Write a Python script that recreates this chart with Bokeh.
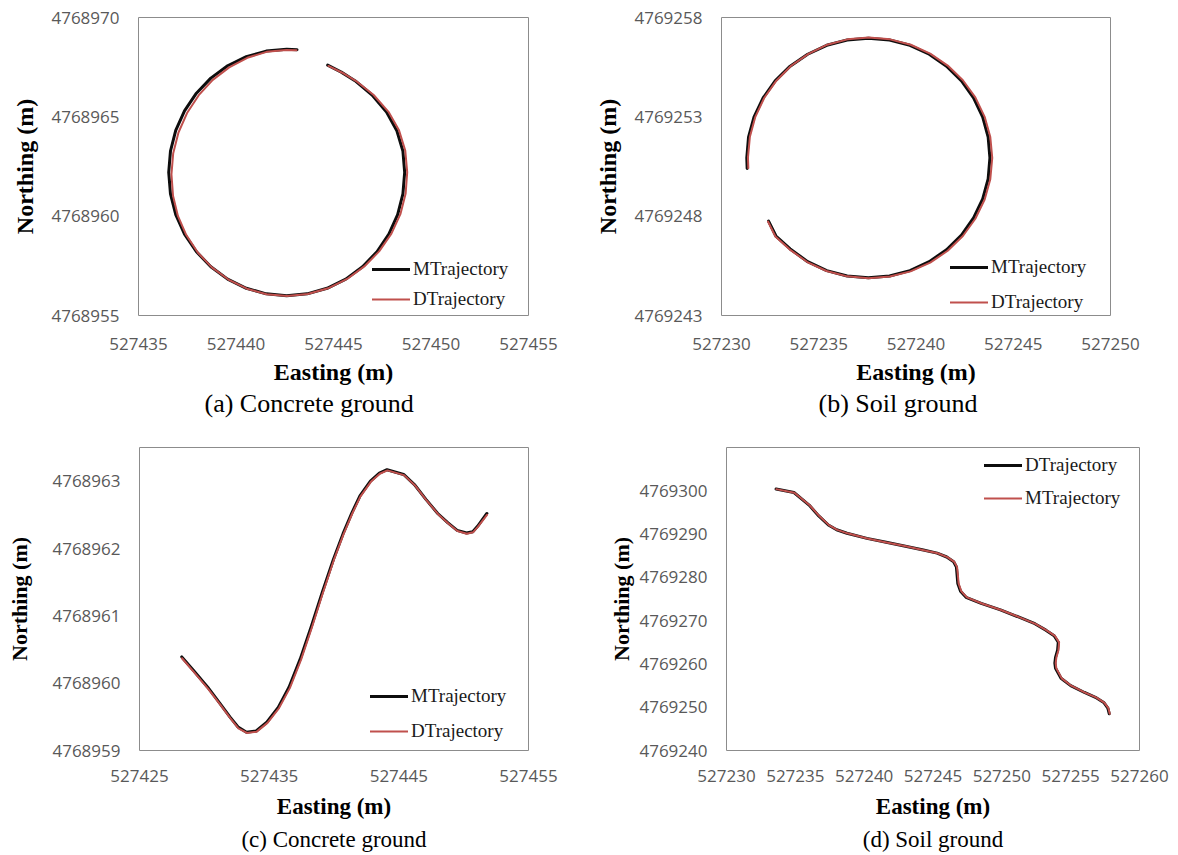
from bokeh.plotting import figure
from bokeh.models import (Range1d, FixedTicker, NumeralTickFormatter, Title,
                          Legend, LegendItem)
from bokeh.layouts import column, row
from bokeh.embed import file_html
from bokeh.resources import INLINE

# ---------------- data ----------------
# (a) Concrete ground - circle
a_m_east = [527443.13, 527442.60, 527441.55, 527440.53, 527439.57, 527438.71, 527437.97, 527437.36,
            527436.91, 527436.64, 527436.55, 527436.64, 527436.91, 527437.36, 527437.97, 527438.71,
            527439.57, 527440.53, 527441.55, 527442.60, 527443.65, 527444.67, 527445.63, 527446.49,
            527447.23, 527447.84, 527448.29, 527448.56, 527448.65, 527448.56, 527448.25, 527447.72,
            527446.98, 527446.10, 527445.40, 527444.70]
a_m_north = [4768968.38, 4768968.40, 4768968.31, 4768968.03, 4768967.57, 4768966.95, 4768966.19,
             4768965.30, 4768964.32, 4768963.28, 4768962.20, 4768961.12, 4768960.08, 4768959.10,
             4768958.21, 4768957.45, 4768956.83, 4768956.37, 4768956.09, 4768956.00, 4768956.09,
             4768956.37, 4768956.83, 4768957.45, 4768958.21, 4768959.10, 4768960.08, 4768961.12,
             4768962.20, 4768963.28, 4768964.30, 4768965.24, 4768966.10, 4768966.82, 4768967.25,
             4768967.60]
a_d_east = [527443.10, 527442.58, 527441.57, 527440.58, 527439.65, 527438.81, 527438.09, 527437.49,
            527437.05, 527436.78, 527436.69, 527436.77, 527437.02, 527437.45, 527438.04, 527438.76,
            527439.61, 527440.56, 527441.57, 527442.62, 527443.68, 527444.72, 527445.70, 527446.58,
            527447.34, 527447.97, 527448.43, 527448.70, 527448.78, 527448.68, 527448.36, 527447.82,
            527447.06, 527446.16, 527445.45, 527444.74]
a_d_north = [4768968.35, 4768968.37, 4768968.27, 4768967.97, 4768967.49, 4768966.86, 4768966.09,
             4768965.19, 4768964.21, 4768963.17, 4768962.10, 4768961.03, 4768960.01, 4768959.05,
             4768958.17, 4768957.42, 4768956.81, 4768956.35, 4768956.07, 4768955.98, 4768956.08,
             4768956.37, 4768956.84, 4768957.47, 4768958.23, 4768959.12, 4768960.10, 4768961.14,
             4768962.22, 4768963.30, 4768964.32, 4768965.25, 4768966.10, 4768966.80, 4768967.22,
             4768967.56]

# (b) Soil ground - circle
b_m_east = [527231.32, 527231.30, 527231.39, 527231.67, 527232.14, 527232.76, 527233.53, 527234.43,
            527235.41, 527236.46, 527237.55, 527238.64, 527239.69, 527240.68, 527241.57, 527242.34,
            527242.96, 527243.43, 527243.71, 527243.80, 527243.71, 527243.43, 527242.96, 527242.34,
            527241.57, 527240.68, 527239.69, 527238.64, 527237.55, 527236.46, 527235.41, 527234.43,
            527233.53, 527232.80, 527232.42]
b_m_north = [4769250.40, 4769250.93, 4769251.98, 4769252.99, 4769253.95, 4769254.81, 4769255.55,
             4769256.15, 4769256.60, 4769256.87, 4769256.96, 4769256.87, 4769256.60, 4769256.15,
             4769255.55, 4769254.81, 4769253.95, 4769252.99, 4769251.98, 4769250.93, 4769249.88,
             4769248.87, 4769247.91, 4769247.05, 4769246.31, 4769245.71, 4769245.26, 4769244.99,
             4769244.90, 4769244.99, 4769245.26, 4769245.71, 4769246.35, 4769247.00, 4769247.75]
b_d_east = [527231.38, 527231.36, 527231.46, 527231.74, 527232.20, 527232.82, 527233.58, 527234.47,
            527235.44, 527236.48, 527237.57, 527238.67, 527239.73, 527240.73, 527241.63, 527242.41,
            527243.05, 527243.53, 527243.82, 527243.92, 527243.82, 527243.53, 527243.05, 527242.41,
            527241.63, 527240.73, 527239.72, 527238.66, 527237.56, 527236.46, 527235.40, 527234.41,
            527233.50, 527232.77, 527232.39]
b_d_north = [4769250.42, 4769250.95, 4769252.00, 4769253.00, 4769253.96, 4769254.82, 4769255.57,
             4769256.17, 4769256.63, 4769256.90, 4769256.99, 4769256.90, 4769256.63, 4769256.18,
             4769255.58, 4769254.84, 4769253.98, 4769253.00, 4769251.98, 4769250.93, 4769249.86,
             4769248.84, 4769247.87, 4769247.00, 4769246.26, 4769245.66, 4769245.22, 4769244.96,
             4769244.87, 4769244.97, 4769245.24, 4769245.69, 4769246.33, 4769246.98, 4769247.73]

# (c) Concrete ground - S curve
c_m_east = [527428.26, 527429.20, 527430.26, 527431.20, 527431.97, 527432.60, 527433.25,
            527434.00, 527434.82, 527435.70, 527436.53, 527437.40, 527438.25, 527439.10,
            527439.96, 527440.70, 527441.38, 527442.00, 527442.81, 527443.50, 527444.09,
            527445.37, 527446.20, 527447.09, 527448.00, 527448.79, 527449.50, 527450.22,
            527450.70, 527451.07, 527451.79]
c_m_north = [4768960.39, 4768960.18, 4768959.94, 4768959.70, 4768959.50, 4768959.35, 4768959.27,
             4768959.29, 4768959.42, 4768959.64, 4768959.94, 4768960.36, 4768960.84, 4768961.35,
             4768961.84, 4768962.22, 4768962.53, 4768962.78, 4768963.00, 4768963.12, 4768963.17,
             4768963.10, 4768962.95, 4768962.73, 4768962.52, 4768962.38, 4768962.27, 4768962.23,
             4768962.25, 4768962.33, 4768962.52]
c_d_east = [527428.28, 527429.22, 527430.28, 527431.23, 527432.00, 527432.63, 527433.28,
            527434.04, 527434.87, 527435.76, 527436.60, 527437.46, 527438.30, 527439.14,
            527439.99, 527440.73, 527441.41, 527442.03, 527442.84, 527443.53, 527444.12,
            527445.40, 527446.23, 527447.12, 527448.03, 527448.82, 527449.52, 527450.24,
            527450.72, 527451.09, 527451.80]
c_d_north = [4768960.37, 4768960.16, 4768959.92, 4768959.68, 4768959.48, 4768959.33, 4768959.26,
             4768959.28, 4768959.41, 4768959.63, 4768959.93, 4768960.35, 4768960.83, 4768961.34,
             4768961.83, 4768962.21, 4768962.52, 4768962.77, 4768962.99, 4768963.11, 4768963.16,
             4768963.09, 4768962.94, 4768962.72, 4768962.51, 4768962.37, 4768962.26, 4768962.22,
             4768962.24, 4768962.32, 4768962.50]

# (d) Soil ground - wavy descending path
d_d_east = [527233.60, 527234.90, 527236.00, 527236.70, 527237.40, 527238.00, 527238.75, 527240.20,
            527241.60, 527243.00, 527244.30, 527245.30, 527246.00, 527246.50, 527246.70, 527246.75,
            527246.80, 527247.00, 527247.40, 527248.50, 527249.90, 527251.25, 527252.40, 527253.20,
            527253.80, 527254.10, 527254.05, 527253.90, 527253.85, 527253.90, 527254.30, 527255.00,
            527256.00, 527256.80, 527257.40, 527257.70, 527257.80]
d_d_north = [4769300.40, 4769299.60, 4769296.70, 4769294.20, 4769292.10, 4769291.00, 4769290.20,
             4769289.00, 4769288.10, 4769287.20, 4769286.30, 4769285.60, 4769284.70, 4769283.60,
             4769282.40, 4769280.50, 4769278.60, 4769276.80, 4769275.40, 4769274.00, 4769272.50,
             4769270.80, 4769269.30, 4769267.80, 4769266.50, 4769265.00, 4769263.20, 4769261.50,
             4769260.20, 4769259.00, 4769256.70, 4769255.00, 4769253.40, 4769252.30, 4769251.10,
             4769249.80, 4769248.50]
d_m_east = [527233.62, 527234.93, 527236.04, 527236.74, 527237.44, 527238.04, 527238.79, 527240.23,
            527241.63, 527243.03, 527244.33, 527245.34, 527246.04, 527246.55, 527246.75, 527246.81,
            527246.86, 527247.06, 527247.46, 527248.55, 527249.94, 527251.29, 527252.44, 527253.25,
            527253.86, 527254.16, 527254.11, 527253.96, 527253.91, 527253.96, 527254.35, 527255.04,
            527256.04, 527256.84, 527257.44, 527257.74, 527257.84]
d_m_north = [4769300.38, 4769299.57, 4769296.66, 4769294.16, 4769292.07, 4769290.97, 4769290.17,
             4769288.97, 4769288.07, 4769287.17, 4769286.27, 4769285.57, 4769284.66, 4769283.56,
             4769282.36, 4769280.47, 4769278.58, 4769276.77, 4769275.37, 4769273.96, 4769272.47,
             4769270.77, 4769269.27, 4769267.77, 4769266.47, 4769264.98, 4769263.18, 4769261.48,
             4769260.18, 4769258.97, 4769256.66, 4769254.97, 4769253.37, 4769252.27, 4769251.07,
             4769249.77, 4769248.48]

# axis ranges and tick values
a_xrange, a_yrange = (527435, 527455), (4768955, 4768970)
b_xrange, b_yrange = (527230, 527250), (4769243, 4769258)
c_xrange, c_yrange = (527425, 527455), (4768959, 4768963.5)
d_xrange, d_yrange = (527230, 527260), (4769240, 4769310)
a_xticks = [527435, 527440, 527445, 527450, 527455]
a_yticks = [4768955, 4768960, 4768965, 4768970]
b_xticks = [527230, 527235, 527240, 527245, 527250]
b_yticks = [4769243, 4769248, 4769253, 4769258]
c_xticks = [527425, 527435, 527445, 527455]
c_yticks = [4768959, 4768960, 4768961, 4768962, 4768963]
d_xticks = [527230, 527235, 527240, 527245, 527250, 527255, 527260]
d_yticks = [4769240, 4769250, 4769260, 4769270, 4769280, 4769290, 4769300]

caption_a = "(a) Concrete ground"
caption_b = "(b) Soil ground"
caption_c = "(c) Concrete ground"
caption_d = "(d) Soil ground"

BLACK = "#0d0d0d"
RED = "#C0504D"
SERIF = "Liberation Serif"


def make_panel(width, height, borders, xr, yr, xticks, yticks, series, legend_pos,
               legend_spacing, xstand, ystand, xlab_stand, ylab_stand, lab_sizes,
               caption, cap_size, cap_stand, cap_align, cap_offset):
    left, right, top, bottom = borders
    p = figure(width=width, height=height, output_backend="svg", toolbar_location=None,
               x_range=Range1d(*xr), y_range=Range1d(*yr), title_location=None,
               min_border_left=left, min_border_right=right,
               min_border_top=top, min_border_bottom=bottom)
    p.background_fill_color = "white"
    p.border_fill_color = "white"
    p.outline_line_color = "#8c8c8c"
    p.outline_line_width = 1
    p.xgrid.visible = False
    p.ygrid.visible = False
    p.xaxis.ticker = FixedTicker(ticks=xticks)
    p.yaxis.ticker = FixedTicker(ticks=yticks)
    p.xaxis.axis_label = "Easting (m)"
    p.yaxis.axis_label = "Northing (m)"
    for ax, st, ls, fs in ((p.xaxis, xstand, xlab_stand, lab_sizes[0]),
                           (p.yaxis, ystand, ylab_stand, lab_sizes[1])):
        ax.formatter = NumeralTickFormatter(format="0")
        ax.axis_line_color = None
        ax.major_tick_line_color = None
        ax.minor_tick_line_color = None
        ax.major_tick_out = 0
        ax.major_tick_in = 0
        ax.minor_tick_out = 0
        ax.major_label_standoff = st
        ax.major_label_text_font = "Open Sans"
        ax.major_label_text_font_size = "17px"
        ax.major_label_text_color = "#595959"
        ax.axis_label_text_font = SERIF
        ax.axis_label_text_font_size = fs
        ax.axis_label_text_font_style = "bold"
        ax.axis_label_text_color = "#000000"
        ax.axis_label_standoff = ls

    items = []
    for (xs, ys, color, lw, name) in series:
        r = p.line(xs, ys, line_color=color, line_width=lw, line_join="round", line_cap="round")
        items.append(LegendItem(label=name, renderers=[r]))
    leg = Legend(items=items, location=legend_pos, padding=0, margin=0,
                 spacing=legend_spacing, glyph_width=38, glyph_height=22, label_height=22,
                 label_standoff=3, label_text_font=SERIF, label_text_font_size="19px",
                 label_text_color="#1a1a1a", background_fill_alpha=0,
                 border_line_alpha=0)
    p.add_layout(leg)

    p.add_layout(Title(text=caption, align=cap_align, text_font=SERIF,
                       text_font_size=cap_size, text_font_style="normal",
                       text_color="#000000", standoff=cap_stand, offset=cap_offset), "below")
    return p


pa = make_panel(580, 420, (138, 52, 17, 105), a_xrange, a_yrange, a_xticks, a_yticks,
                [(a_m_east, a_m_north, BLACK, 3, "MTrajectory"),
                 (a_d_east, a_d_north, RED, 2, "DTrajectory")],
                (234, 5), 8, 22, 19, 6, 10, ("24px", "24px"),
                caption_a, "26px", -2, "left", 66)

pb = make_panel(590, 420, (141, 60, 17, 105), b_xrange, b_yrange, b_xticks, b_yticks,
                [(b_m_east, b_m_north, BLACK, 3, "MTrajectory"),
                 (b_d_east, b_d_north, RED, 2, "DTrajectory")],
                (229, 2), 13, 22, 19, 6, 10, ("24px", "24px"),
                caption_b, "26px", -2, "left", 97)

pc = make_panel(580, 435, (139, 52, 27, 105), c_xrange, c_yrange, c_xticks, c_yticks,
                [(c_m_east, c_m_north, BLACK, 3, "MTrajectory"),
                 (c_d_east, c_d_north, RED, 2, "DTrajectory")],
                (231, 8), 13, 19, 19, 9, 17, ("23px", "22px"),
                caption_c, "23px", 6, "center", 0)

pd_ = make_panel(590, 435, (146, 31, 27, 105), d_xrange, d_yrange, d_xticks, d_yticks,
                 [(d_d_east, d_d_north, BLACK, 3, "DTrajectory"),
                  (d_m_east, d_m_north, RED, 2, "MTrajectory")],
                 (258, 241), 11, 19, 19, 9, 2, ("23px", "22px"),
                 caption_d, "23px", 6, "center", 0)

layout = column(row(pa, pb), row(pc, pd_))
open("out.html", "w").write(file_html(layout, INLINE))
